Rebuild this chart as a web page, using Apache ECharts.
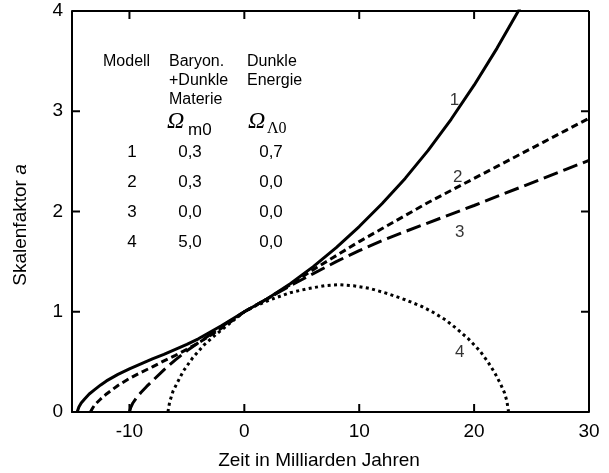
<!DOCTYPE html>
<html>
<head>
<meta charset="utf-8">
<script src="https://cdn.jsdelivr.net/npm/echarts@6/dist/echarts.min.js"></script>
<style>
  html, body { margin: 0; padding: 0; background: #fff; }
  #chart { width: 609px; height: 473px; }
</style>
</head>
<body>
<div id="chart"></div>
<script>
// Werte (Zeit in Mrd. Jahren, Skalenfaktor a)
var t1 = [-14.55, -14.4, -14.2, -13.9, -13.5, -13.0, -12.5, -12.0, -11.0, -10.0, -9.0, -8.0, -7.0, -6.0, -5.0, -4.0, -3.0, -2.0, -1.0, 0, 2, 4, 6, 8, 10, 12, 14, 16, 18, 20, 22, 24];
var a1 = [0, 0.05, 0.09, 0.13, 0.18, 0.225, 0.27, 0.31, 0.375, 0.43, 0.48, 0.53, 0.575, 0.625, 0.675, 0.73, 0.795, 0.86, 0.93, 1.0, 1.13, 1.28, 1.45, 1.64, 1.85, 2.08, 2.33, 2.61, 2.92, 3.26, 3.63, 4.03];

var t2 = [-13.4, -13.2, -13.0, -12.5, -12.0, -11.0, -10.0, -9.0, -8.0, -7.0, -6.0, -5.0, -4.0, -3.0, -2.0, -1.0, 0, 2, 4, 6, 8, 10, 12, 14, 16, 18, 20, 22, 24, 26, 28, 30];
var a2 = [0, 0.04, 0.075, 0.13, 0.18, 0.265, 0.335, 0.395, 0.45, 0.51, 0.565, 0.625, 0.69, 0.76, 0.835, 0.915, 1.0, 1.13, 1.27, 1.42, 1.56, 1.70, 1.83, 1.96, 2.09, 2.21, 2.33, 2.45, 2.57, 2.69, 2.81, 2.93];

var t3 = [-10.0, -9.9, -9.7, -9.4, -9.0, -8.5, -8.0, -7.0, -6.0, -5.0, -4.0, -3.0, -2.0, -1.0, 0, 2, 4, 6, 8, 10, 12, 14, 17, 20, 22, 24, 26, 28, 30];
var a3 = [0, 0.04, 0.09, 0.14, 0.195, 0.255, 0.31, 0.42, 0.52, 0.61, 0.69, 0.77, 0.85, 0.925, 1.0, 1.13, 1.26, 1.38, 1.50, 1.61, 1.71, 1.80, 1.93, 2.06, 2.15, 2.24, 2.33, 2.42, 2.51];

var t4 = [-6.65, -6.5, -6.2, -5.8, -5.3, -4.5, -3.5, -2.5, -1.0, 0, 1, 2.5, 4, 5.5, 7, 8.2, 9.5, 11, 12.5, 14, 15.5, 16.5, 17.5, 18.5, 19.5, 20.5, 21.2, 21.8, 22.3, 22.65, 22.85, 23.0];
var a4 = [0, 0.1, 0.21, 0.3, 0.41, 0.54, 0.67, 0.77, 0.91, 1.0, 1.06, 1.13, 1.19, 1.23, 1.26, 1.27, 1.26, 1.23, 1.18, 1.12, 1.05, 0.99, 0.92, 0.83, 0.73, 0.61, 0.5, 0.39, 0.28, 0.19, 0.11, 0];

var xTicks = [-10, 0, 10, 20, 30];
var xTickMarks = [-10, 0, 10, 20];
var yTickMarks = [1, 2, 3];

// Kurvennummern (Position in Datenkoordinaten)
var curveNames = ['1', '2', '3', '4'];
var curveLabelPos = [[18.3, 3.11], [18.57, 2.34], [18.74, 1.79], [18.74, 0.60]];

// Tabelle
var modelIds = ['1', '2', '3', '4'];
var omegaM = ['0,3', '0,3', '0,0', '5,0'];
var omegaL = ['0,7', '0,0', '0,0', '0,0'];

var X_MIN = -15, X_MAX = 30, Y_MIN = 0, Y_MAX = 4;

function zip(ts, as) {
  return ts.map(function (t, i) { return [t, as[i]]; });
}

var FONT = "'Liberation Sans', Arial, Helvetica, sans-serif";
var SERIF = "'Liberation Serif', 'Times New Roman', serif";

var chart = echarts.init(document.getElementById('chart'));

function lineSeries(data, dash) {
  return {
    type: 'line',
    data: data,
    showSymbol: false,
    symbol: 'none',
    smooth: false,
    animation: false,
    lineStyle: { color: '#000', width: 3, type: dash }
  };
}

function txt(x, y, s, size, align, extra) {
  var st = {
    text: s, fill: '#000', fontSize: size, fontFamily: FONT,
    align: align || 'left', verticalAlign: 'middle'
  };
  if (extra) { for (var k in extra) st[k] = extra[k]; }
  return { type: 'text', x: x, y: y, style: st, silent: true };
}

var graphics = [
  txt(103, 62, 'Modell', 16),
  txt(169, 62, 'Baryon.', 16),
  txt(169, 81, '+Dunkle', 16),
  txt(169, 99.5, 'Materie', 16),
  txt(247, 62, 'Dunkle', 16),
  txt(247, 81, 'Energie', 16),
  txt(167, 122, '\u03A9', 24, 'left', { fontFamily: SERIF, fontStyle: 'italic' }),
  txt(188, 130, 'm0', 17),
  txt(248, 122, '\u03A9', 24, 'left', { fontFamily: SERIF, fontStyle: 'italic' }),
  txt(267, 129, '\u039B0', 16, 'left', { fontFamily: SERIF }),
  {
    type: 'text', x: 21, y: 225, rotation: Math.PI / 2, silent: true,
    style: {
      text: '{n|Skalenfaktor }{i|a}', fill: '#000', fontSize: 19, fontFamily: FONT,
      align: 'center', verticalAlign: 'middle',
      rich: {
        n: { fontSize: 19, fontFamily: FONT, fill: '#000' },
        i: { fontSize: 19, fontFamily: FONT, fontStyle: 'italic', fill: '#000' }
      }
    }
  },
  txt(319, 461, 'Zeit in Milliarden Jahren', 19, 'center')
];
var rowY = [152, 182, 212, 242];
modelIds.forEach(function (m, i) {
  graphics.push(txt(132, rowY[i], m, 17, 'center'));
  graphics.push(txt(190, rowY[i], omegaM[i], 17, 'center'));
  graphics.push(txt(271, rowY[i], omegaL[i], 17, 'center'));
});

var option = {
  animation: false,
  grid: { left: 72, right: 20, top: 11, bottom: 61 },
  xAxis: {
    type: 'value', min: X_MIN, max: X_MAX,
    axisLine: { show: true, onZero: false, lineStyle: { color: '#000', width: 2 } },
    axisTick: { show: false },
    axisLabel: { customValues: xTicks, margin: 10, color: '#000', fontSize: 19, fontFamily: FONT },
    splitLine: { show: false }
  },
  yAxis: {
    type: 'value', min: Y_MIN, max: Y_MAX, interval: 1,
    axisLine: { show: true, onZero: false, lineStyle: { color: '#000', width: 2 } },
    axisTick: { show: false },
    axisLabel: { margin: 9, color: '#000', fontSize: 19, fontFamily: FONT },
    splitLine: { show: false }
  },
  series: [
    lineSeries(zip(t1, a1), 'solid'),
    lineSeries(zip(t2, a2), [7, 4]),
    lineSeries(zip(t3, a3), [15, 6]),
    lineSeries(zip(t4, a4), [3, 3.4]),
    {
      type: 'scatter',
      symbolSize: 0,
      animation: false,
      data: curveLabelPos.map(function (p, i) { return { value: p, name: curveNames[i] }; }),
      label: {
        show: true, position: 'inside', formatter: '{b}',
        color: '#000', fontSize: 17, fontFamily: FONT
      }
    }
  ],
  graphic: graphics
};

chart.setOption(option);

// Rahmen und nach innen zeigende Skalenstriche, Lage über die Achsen-Skalen
var TICK_LEN = 8;
function px(x, y) { return chart.convertToPixel({ xAxisIndex: 0, yAxisIndex: 0 }, [x, y]); }
function seg(x1, y1, x2, y2) {
  return {
    type: 'line', z: 100, silent: true,
    shape: { x1: x1, y1: y1, x2: x2, y2: y2 },
    style: { stroke: '#000', lineWidth: 2 }
  };
}
var lo = px(X_MIN, Y_MIN), hi = px(X_MAX, Y_MAX);
var frame = [
  seg(lo[0], hi[1], hi[0], hi[1]),
  seg(hi[0], hi[1], hi[0], lo[1])
];
xTickMarks.forEach(function (v) {
  var b = px(v, Y_MIN), t = px(v, Y_MAX);
  frame.push(seg(b[0], b[1], b[0], b[1] - TICK_LEN));
  frame.push(seg(t[0], t[1], t[0], t[1] + TICK_LEN));
});
yTickMarks.forEach(function (v) {
  var l = px(X_MIN, v), r = px(X_MAX, v);
  frame.push(seg(l[0], l[1], l[0] + TICK_LEN, l[1]));
  frame.push(seg(r[0], r[1], r[0] - TICK_LEN, r[1]));
});
chart.setOption({ graphic: graphics.concat(frame) });
</script>
</body>
</html>
